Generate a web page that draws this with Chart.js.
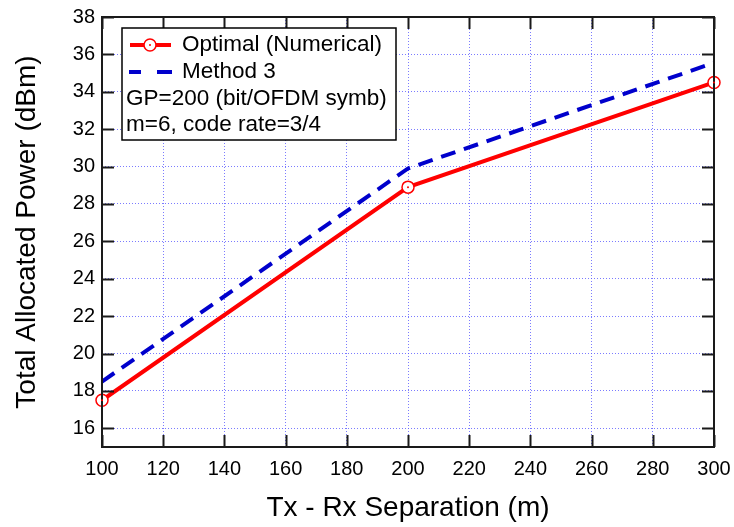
<!DOCTYPE html>
<html>
<head>
<meta charset="utf-8">
<script src="https://cdn.jsdelivr.net/npm/chart.js@4.4.1/dist/chart.umd.min.js"></script>
<style>
  html, body { margin: 0; padding: 0; background: #fff; }
  #wrap { width: 734px; height: 527px; }
</style>
</head>
<body>
<div id="wrap"><canvas id="chart" width="734" height="527"></canvas></div>
<script>
// data
const separation = [100, 200, 300];
const optimal = [17.5, 28.9, 34.5];
const method3 = [18.5, 29.9, 35.55];
const xTicks = [100, 120, 140, 160, 180, 200, 220, 240, 260, 280, 300];
const yTicks = [16, 18, 20, 22, 24, 26, 28, 30, 32, 34, 36, 38];
const legendNotes = ["GP=200 (bit/OFDM symb)", "m=6, code rate=3/4"];

const FONT = "'Liberation Sans', Arial, sans-serif";

// frame, inward ticks, marker dots and legend box
const decorations = {
    id: "decorations",
    afterDatasetsDraw(chart) {
        const ctx = chart.ctx;
        const area = chart.chartArea;
        const xs = chart.scales.x;
        const ys = chart.scales.y;

        ctx.save();
        ctx.strokeStyle = "#1a1a1a";
        ctx.lineWidth = 2;
        ctx.strokeRect(area.left, area.top, area.right - area.left, area.bottom - area.top);

        const tl = 12;
        ctx.beginPath();
        xTicks.forEach(v => {
            const px = Math.round(xs.getPixelForValue(v)) + 0.5;
            ctx.moveTo(px, area.bottom); ctx.lineTo(px, area.bottom - tl);
            ctx.moveTo(px, area.top); ctx.lineTo(px, area.top + tl);
        });
        yTicks.forEach(v => {
            const py = Math.round(ys.getPixelForValue(v)) + 0.5;
            ctx.moveTo(area.left, py); ctx.lineTo(area.left + tl, py);
            ctx.moveTo(area.right, py); ctx.lineTo(area.right - tl, py);
        });
        ctx.stroke();

        // small dot inside each red marker
        ctx.fillStyle = "#ff0000";
        chart.getDatasetMeta(0).data.forEach(p => {
            ctx.beginPath();
            ctx.arc(p.x, p.y, 1, 0, Math.PI * 2);
            ctx.fill();
        });

        // legend
        const bx = 122, by = 28, bw = 274, bh = 112;
        ctx.fillStyle = "#fff";
        ctx.fillRect(bx, by, bw, bh);
        ctx.strokeStyle = "#000";
        ctx.lineWidth = 1.5;
        ctx.strokeRect(bx, by, bw, bh);

        ctx.lineWidth = 4;
        ctx.strokeStyle = "#ff0000";
        ctx.beginPath();
        ctx.moveTo(130, 45); ctx.lineTo(171, 45);
        ctx.stroke();
        ctx.lineWidth = 1.5;
        ctx.fillStyle = "#fff";
        ctx.beginPath();
        ctx.arc(150, 45, 6, 0, Math.PI * 2);
        ctx.fill(); ctx.stroke();
        ctx.fillStyle = "#ff0000";
        ctx.beginPath();
        ctx.arc(150, 45, 1, 0, Math.PI * 2);
        ctx.fill();

        ctx.strokeStyle = "#0000cc";
        ctx.lineWidth = 4;
        ctx.beginPath();
        ctx.moveTo(129, 72); ctx.lineTo(141, 72);
        ctx.moveTo(157, 72); ctx.lineTo(172, 72);
        ctx.stroke();

        ctx.fillStyle = "#000";
        ctx.font = "22.5px " + FONT;
        ctx.textBaseline = "middle";
        ctx.textAlign = "left";
        ctx.fillText(chart.data.datasets[0].label, 182, 45);
        ctx.fillText(chart.data.datasets[1].label, 182, 72);
        ctx.fillText(legendNotes[0], 126, 99);
        ctx.fillText(legendNotes[1], 126, 125);
        ctx.restore();
    }
};

const gridStyle = {
    color: "rgba(90, 90, 255, 0.8)",
    lineWidth: 1,
    drawTicks: false
};

new Chart(document.getElementById("chart").getContext("2d"), {
    type: "line",
    data: {
        datasets: [
            {
                label: "Optimal (Numerical)",
                data: separation.map((x, i) => ({ x: x, y: optimal[i] })),
                borderColor: "#ff0000",
                borderWidth: 4,
                pointRadius: 6,
                pointBorderWidth: 1.5,
                pointBackgroundColor: "#ffffff",
                pointBorderColor: "#ff0000",
                tension: 0,
                clip: false
            },
            {
                label: "Method 3",
                data: separation.map((x, i) => ({ x: x, y: method3[i] })),
                borderColor: "#0000cc",
                borderWidth: 4,
                borderDash: [15, 9],
                pointRadius: 0,
                tension: 0,
                clip: false
            }
        ]
    },
    options: {
        responsive: false,
        animation: false,
        layout: { padding: { left: 0, top: 17, right: 20, bottom: 0 } },
        plugins: {
            legend: { display: false },
            tooltip: { enabled: false }
        },
        scales: {
            x: {
                type: "linear",
                min: 100,
                max: 300,
                afterBuildTicks: s => { s.ticks = xTicks.map(v => ({ value: v })); },
                afterFit: s => { s.height = 80; s.paddingLeft = 0; s.paddingRight = 0; },
                grid: gridStyle,
                border: { display: false, dash: [1, 2] },
                ticks: {
                    color: "#000",
                    font: { family: FONT, size: 20 },
                    padding: 10,
                    maxRotation: 0
                },
                title: {
                    display: true,
                    text: "Tx - Rx Separation (m)",
                    color: "#000",
                    font: { family: FONT, size: 28 },
                    padding: { top: 0, bottom: 2 }
                }
            },
            y: {
                type: "linear",
                min: 15,
                max: 38,
                afterBuildTicks: s => { s.ticks = yTicks.map(v => ({ value: v })); },
                afterFit: s => { s.width = 102; s.paddingTop = 0; s.paddingBottom = 0; },
                grid: gridStyle,
                border: { display: false, dash: [1, 2] },
                ticks: {
                    color: "#000",
                    font: { family: FONT, size: 20 },
                    padding: 7
                },
                title: {
                    display: true,
                    text: "Total Allocated Power (dBm)",
                    color: "#000",
                    font: { family: FONT, size: 28 },
                    padding: { top: 10, bottom: 0 }
                }
            }
        }
    },
    plugins: [decorations]
});
</script>
</body>
</html>
